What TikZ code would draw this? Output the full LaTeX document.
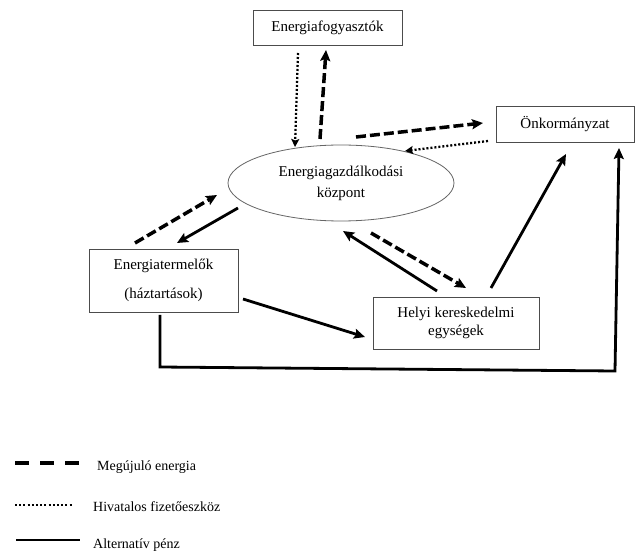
\documentclass[tikz,border=0pt]{standalone}
\usepackage{fontspec}
\setmainfont{Liberation Serif}
\usetikzlibrary{arrows.meta,shapes.geometric}
\begin{document}
\begin{tikzpicture}[x=1pt,y=-1pt,
  box/.style={draw=black!70,line width=0.8pt,fill=white,inner sep=0pt,font=\fontsize{15}{18}\selectfont,align=center},
  ell/.style={ellipse,draw=black!60,line width=0.8pt,inner sep=0pt,font=\fontsize{15}{21}\selectfont,align=center},
  ren/.style={-{Stealth[length=11pt,width=10pt,inset=2pt]},line width=3.5pt,dash pattern=on 10pt off 4pt},
  pay/.style={-{Stealth[length=8pt,width=8pt,inset=1.5pt]},line width=2.3pt,dash pattern=on 2pt off 2pt},
  alt/.style={-{Stealth[length=11pt,width=10pt,inset=2pt]},line width=2.8pt},
  legtext/.style={anchor=west,inner sep=0pt,font=\fontsize{14}{16}\selectfont}]
\useasboundingbox[fill=white] (0,0) rectangle (635,553);
% nodes
\node[box,minimum width=149pt,minimum height=35pt] (cons) at (327.5,27.5) {Energiafogyasztók};
\node[ell,minimum width=226pt,minimum height=76pt] (ctr) at (341,183) {Energiagazdálkodási\\központ};
\node[box,minimum width=138pt,minimum height=36pt] (onk) at (565,124) {Önkormányzat};
\node[box,minimum width=149pt,minimum height=63pt] (ter) at (163.5,280.5) {Energiatermelők\\[11pt](háztartások)};
\node[box,minimum width=166pt,minimum height=52pt] (hely) at (456,323) {Helyi kereskedelmi\\egységek};
% connectors
\draw[pay] ([shift={(-29.5,25.5)}]cons.center) -- ([shift={(-46,-36)}]ctr.center);
\draw[ren] ([shift={(-21,-44)}]ctr.center) -- ([shift={(-1.5,22.5)}]cons.center);
\draw[ren] ([shift={(15,-46)}]ctr.center) -- ([shift={(-82,-1)}]onk.center);
\draw[pay] ([shift={(-77,17)}]onk.center) -- ([shift={(64,-32)}]ctr.center);
\draw[ren] ([shift={(-28.5,-37.5)}]ter.center) -- ([shift={(-124,12)}]ctr.center);
\draw[alt] ([shift={(-103,25)}]ctr.center) -- ([shift={(13.5,-37.5)}]ter.center);
\draw[alt] ([shift={(79.5,18.5)}]ter.center) -- ([shift={(-91,14)}]hely.center);
\draw[alt] ([shift={(-19,-32)}]hely.center) -- ([shift={(2,48)}]ctr.center);
\draw[ren] ([shift={(30,50)}]ctr.center) -- ([shift={(10,-35)}]hely.center);
\draw[alt] ([shift={(35,-35)}]hely.center) -- ([shift={(1,30)}]onk.center);
\coordinate (c1) at (160,367);
\coordinate (c2) at (615,371);
\draw[alt] ([shift={(-3.5,34.5)}]ter.center) -- (c1) -- (c2) -- ([shift={(54,24)}]onk.center);
% legend
\coordinate (l1a) at (15,463); \coordinate (l1b) at (82,463);
\coordinate (l2a) at (15,505); \coordinate (l2b) at (72,505);
\coordinate (l3a) at (16,540); \coordinate (l3b) at (80,540);
\draw[line width=3.5pt,dash pattern=on 14pt off 11pt] (l1a) -- (l1b);
\draw[line width=2pt,dash pattern=on 2pt off 2.2pt] (l2a) -- (l2b);
\draw[line width=2.8pt] (l3a) -- (l3b);
\node[legtext] (t1) at (97,467) {Megújuló energia};
\node[legtext] (t2) at (93,507) {Hivatalos fizetőeszköz};
\node[legtext] (t3) at (93,545) {Alternatív pénz};
\end{tikzpicture}
\end{document}
